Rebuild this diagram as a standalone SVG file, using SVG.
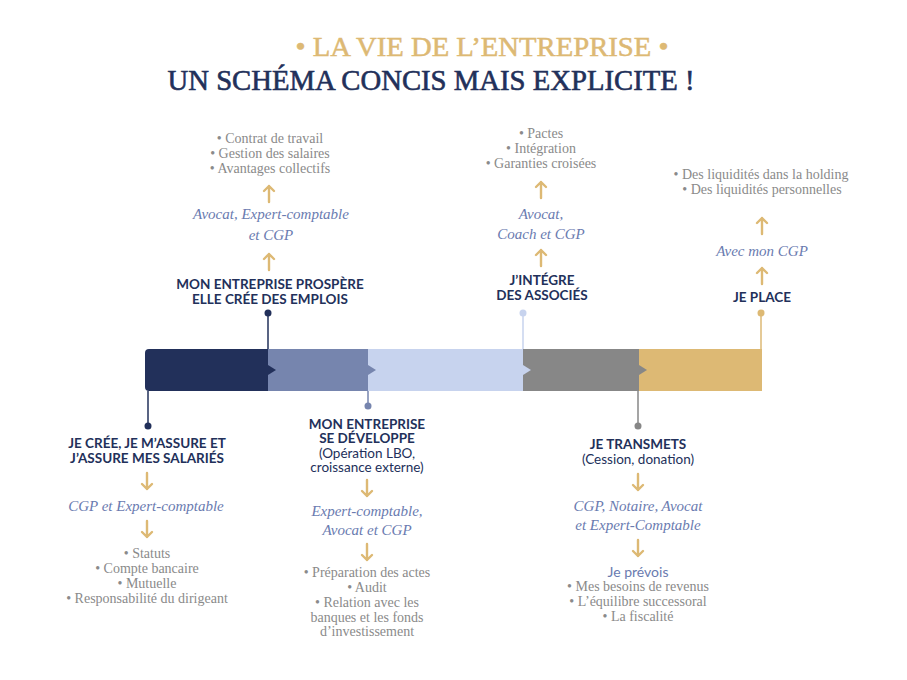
<svg xmlns="http://www.w3.org/2000/svg" width="907" height="680" viewBox="0 0 907 680">
<style>
.t1{font-family:"Liberation Serif",serif;font-size:27px;fill:#ddb974;stroke:#ddb974;stroke-width:0.5;text-anchor:middle}
.t2{font-family:"Liberation Serif",serif;font-size:29px;fill:#22305a;stroke:#22305a;stroke-width:0.6;text-anchor:middle}
.lbl{font-family:Lato,"Liberation Sans",sans-serif;font-weight:bold;font-size:13.5px;fill:#22305a;text-anchor:middle}
.sub{font-family:Lato,"Liberation Sans",sans-serif;font-size:13.5px;fill:#22305a;text-anchor:middle}
.scr{font-family:"Liberation Serif",serif;font-style:italic;font-size:15px;fill:#6a7bb0;text-anchor:middle}
.li{font-family:"Liberation Serif",serif;font-size:14px;fill:#8a8a8a;text-anchor:middle}
.pv{font-family:Lato,"Liberation Sans",sans-serif;font-size:14px;fill:#6a7bb0;text-anchor:middle}
.arr{fill:none;stroke:#ddb974;stroke-width:2.4;stroke-linecap:round;stroke-linejoin:round}
</style>
<defs>
<path id="up" class="arr" d="M0,-8 V8 M-5,-3 L0,-8 L5,-3"/>
<path id="down" class="arr" d="M0,8 V-8 M-5,3 L0,8 L5,3"/>
</defs>

<g id="title">
<text class="t1" x="482" y="56" textLength="373" lengthAdjust="spacingAndGlyphs">• LA VIE DE L’ENTREPRISE •</text>
<text class="t2" x="431" y="90" textLength="527" lengthAdjust="spacingAndGlyphs">UN SCHÉMA CONCIS MAIS EXPLICITE !</text>
</g>

<g id="timeline">
<path d="M149,349 H268 V391 H149 Q145,391 145,387 V353 Q145,349 149,349 Z" fill="#22305a"/>
<rect x="268" y="349" width="100" height="42" fill="#7685ae"/>
<rect x="368" y="349" width="155" height="42" fill="#c7d3ee"/>
<rect x="523" y="349" width="116" height="42" fill="#878787"/>
<rect x="639" y="349" width="123" height="42" fill="#ddb974"/>
<path d="M268,365 L276,370 L268,375 Z" fill="#22305a"/>
<path d="M368,365 L376,370 L368,375 Z" fill="#7685ae"/>
<path d="M523,365 L531,370 L523,375 Z" fill="#c7d3ee"/>
<path d="M639,365 L647,370 L639,375 Z" fill="#878787"/>
</g>

<g id="connectors">
<line x1="268" y1="313" x2="268" y2="349" stroke="#22305a" stroke-width="1.5"/>
<circle cx="268" cy="313" r="3.5" fill="#22305a"/>
<line x1="148" y1="391" x2="148" y2="426" stroke="#22305a" stroke-width="1.5"/>
<circle cx="148" cy="426" r="3.5" fill="#22305a"/>
<line x1="368" y1="391" x2="368" y2="406" stroke="#7685ae" stroke-width="1.5"/>
<circle cx="368" cy="406" r="3.5" fill="#7685ae"/>
<line x1="523" y1="313" x2="523" y2="349" stroke="#c7d3ee" stroke-width="1.5"/>
<circle cx="523" cy="313" r="3.5" fill="#c7d3ee"/>
<line x1="638" y1="391" x2="638" y2="426" stroke="#878787" stroke-width="1.5"/>
<circle cx="638" cy="426" r="3.5" fill="#878787"/>
<line x1="761" y1="313" x2="761" y2="349" stroke="#ddb974" stroke-width="1.5"/>
<circle cx="761" cy="313" r="3.5" fill="#ddb974"/>
<use href="#up" x="269" y="194"/>
<use href="#up" x="269" y="262"/>
<use href="#up" x="541" y="190"/>
<use href="#up" x="541" y="258"/>
<use href="#up" x="762" y="226"/>
<use href="#up" x="762" y="276"/>
<use href="#down" x="147" y="481"/>
<use href="#down" x="147" y="529"/>
<use href="#down" x="367" y="488"/>
<use href="#down" x="367" y="552"/>
<use href="#down" x="638" y="482"/>
<use href="#down" x="638" y="548"/>
</g>

<g id="node-prospere">
<text class="li" x="270" y="143">• Contrat de travail</text>
<text class="li" x="270" y="158">• Gestion des salaires</text>
<text class="li" x="270" y="173">• Avantages collectifs</text>
<text class="scr" x="271" y="219">Avocat, Expert-comptable</text>
<text class="scr" x="271" y="240">et CGP</text>
<text class="lbl" x="270" y="289">MON ENTREPRISE PROSPÈRE</text>
<text class="lbl" x="270" y="304">ELLE CRÉE DES EMPLOIS</text>
</g>

<g id="node-associes">
<text class="li" x="541" y="138">• Pactes</text>
<text class="li" x="541" y="153">• Intégration</text>
<text class="li" x="541" y="168">• Garanties croisées</text>
<text class="scr" x="541" y="219">Avocat,</text>
<text class="scr" x="541" y="239">Coach et CGP</text>
<text class="lbl" x="542" y="285">J’INTÉGRE</text>
<text class="lbl" x="542" y="300">DES ASSOCIÉS</text>
</g>

<g id="node-place">
<text class="li" x="761" y="179">• Des liquidités dans la holding</text>
<text class="li" x="762" y="194">• Des liquidités personnelles</text>
<text class="scr" x="762" y="256">Avec mon CGP</text>
<text class="lbl" x="762" y="302">JE PLACE</text>
</g>

<g id="node-cree">
<text class="lbl" x="147" y="448">JE CRÉE, JE M’ASSURE ET</text>
<text class="lbl" x="147" y="463">J’ASSURE MES SALARIÉS</text>
<text class="scr" x="146" y="511">CGP et Expert-comptable</text>
<text class="li" x="147" y="558">• Statuts</text>
<text class="li" x="147" y="573">• Compte bancaire</text>
<text class="li" x="147" y="588">• Mutuelle</text>
<text class="li" x="147" y="603">• Responsabilité du dirigeant</text>
</g>

<g id="node-developpe">
<text class="lbl" x="367" y="429">MON ENTREPRISE</text>
<text class="lbl" x="367" y="443">SE DÉVELOPPE</text>
<text class="sub" x="367" y="458">(Opération LBO,</text>
<text class="sub" x="367" y="472">croissance externe)</text>
<text class="scr" x="367" y="516">Expert-comptable,</text>
<text class="scr" x="367" y="535">Avocat et CGP</text>
<text class="li" x="367" y="577">• Préparation des actes</text>
<text class="li" x="367" y="592">• Audit</text>
<text class="li" x="367" y="607">• Relation avec les</text>
<text class="li" x="367" y="622">banques et les fonds</text>
<text class="li" x="367" y="636">d’investissement</text>
</g>

<g id="node-transmets">
<text class="lbl" x="638" y="449">JE TRANSMETS</text>
<text class="sub" x="638" y="464">(Cession, donation)</text>
<text class="scr" x="638" y="511">CGP, Notaire, Avocat</text>
<text class="scr" x="638" y="530">et Expert-Comptable</text>
<text class="pv" x="638" y="577">Je prévois</text>
<text class="li" x="638" y="591">• Mes besoins de revenus</text>
<text class="li" x="638" y="606">• L’équilibre successoral</text>
<text class="li" x="638" y="621">• La fiscalité</text>
</g>
</svg>
